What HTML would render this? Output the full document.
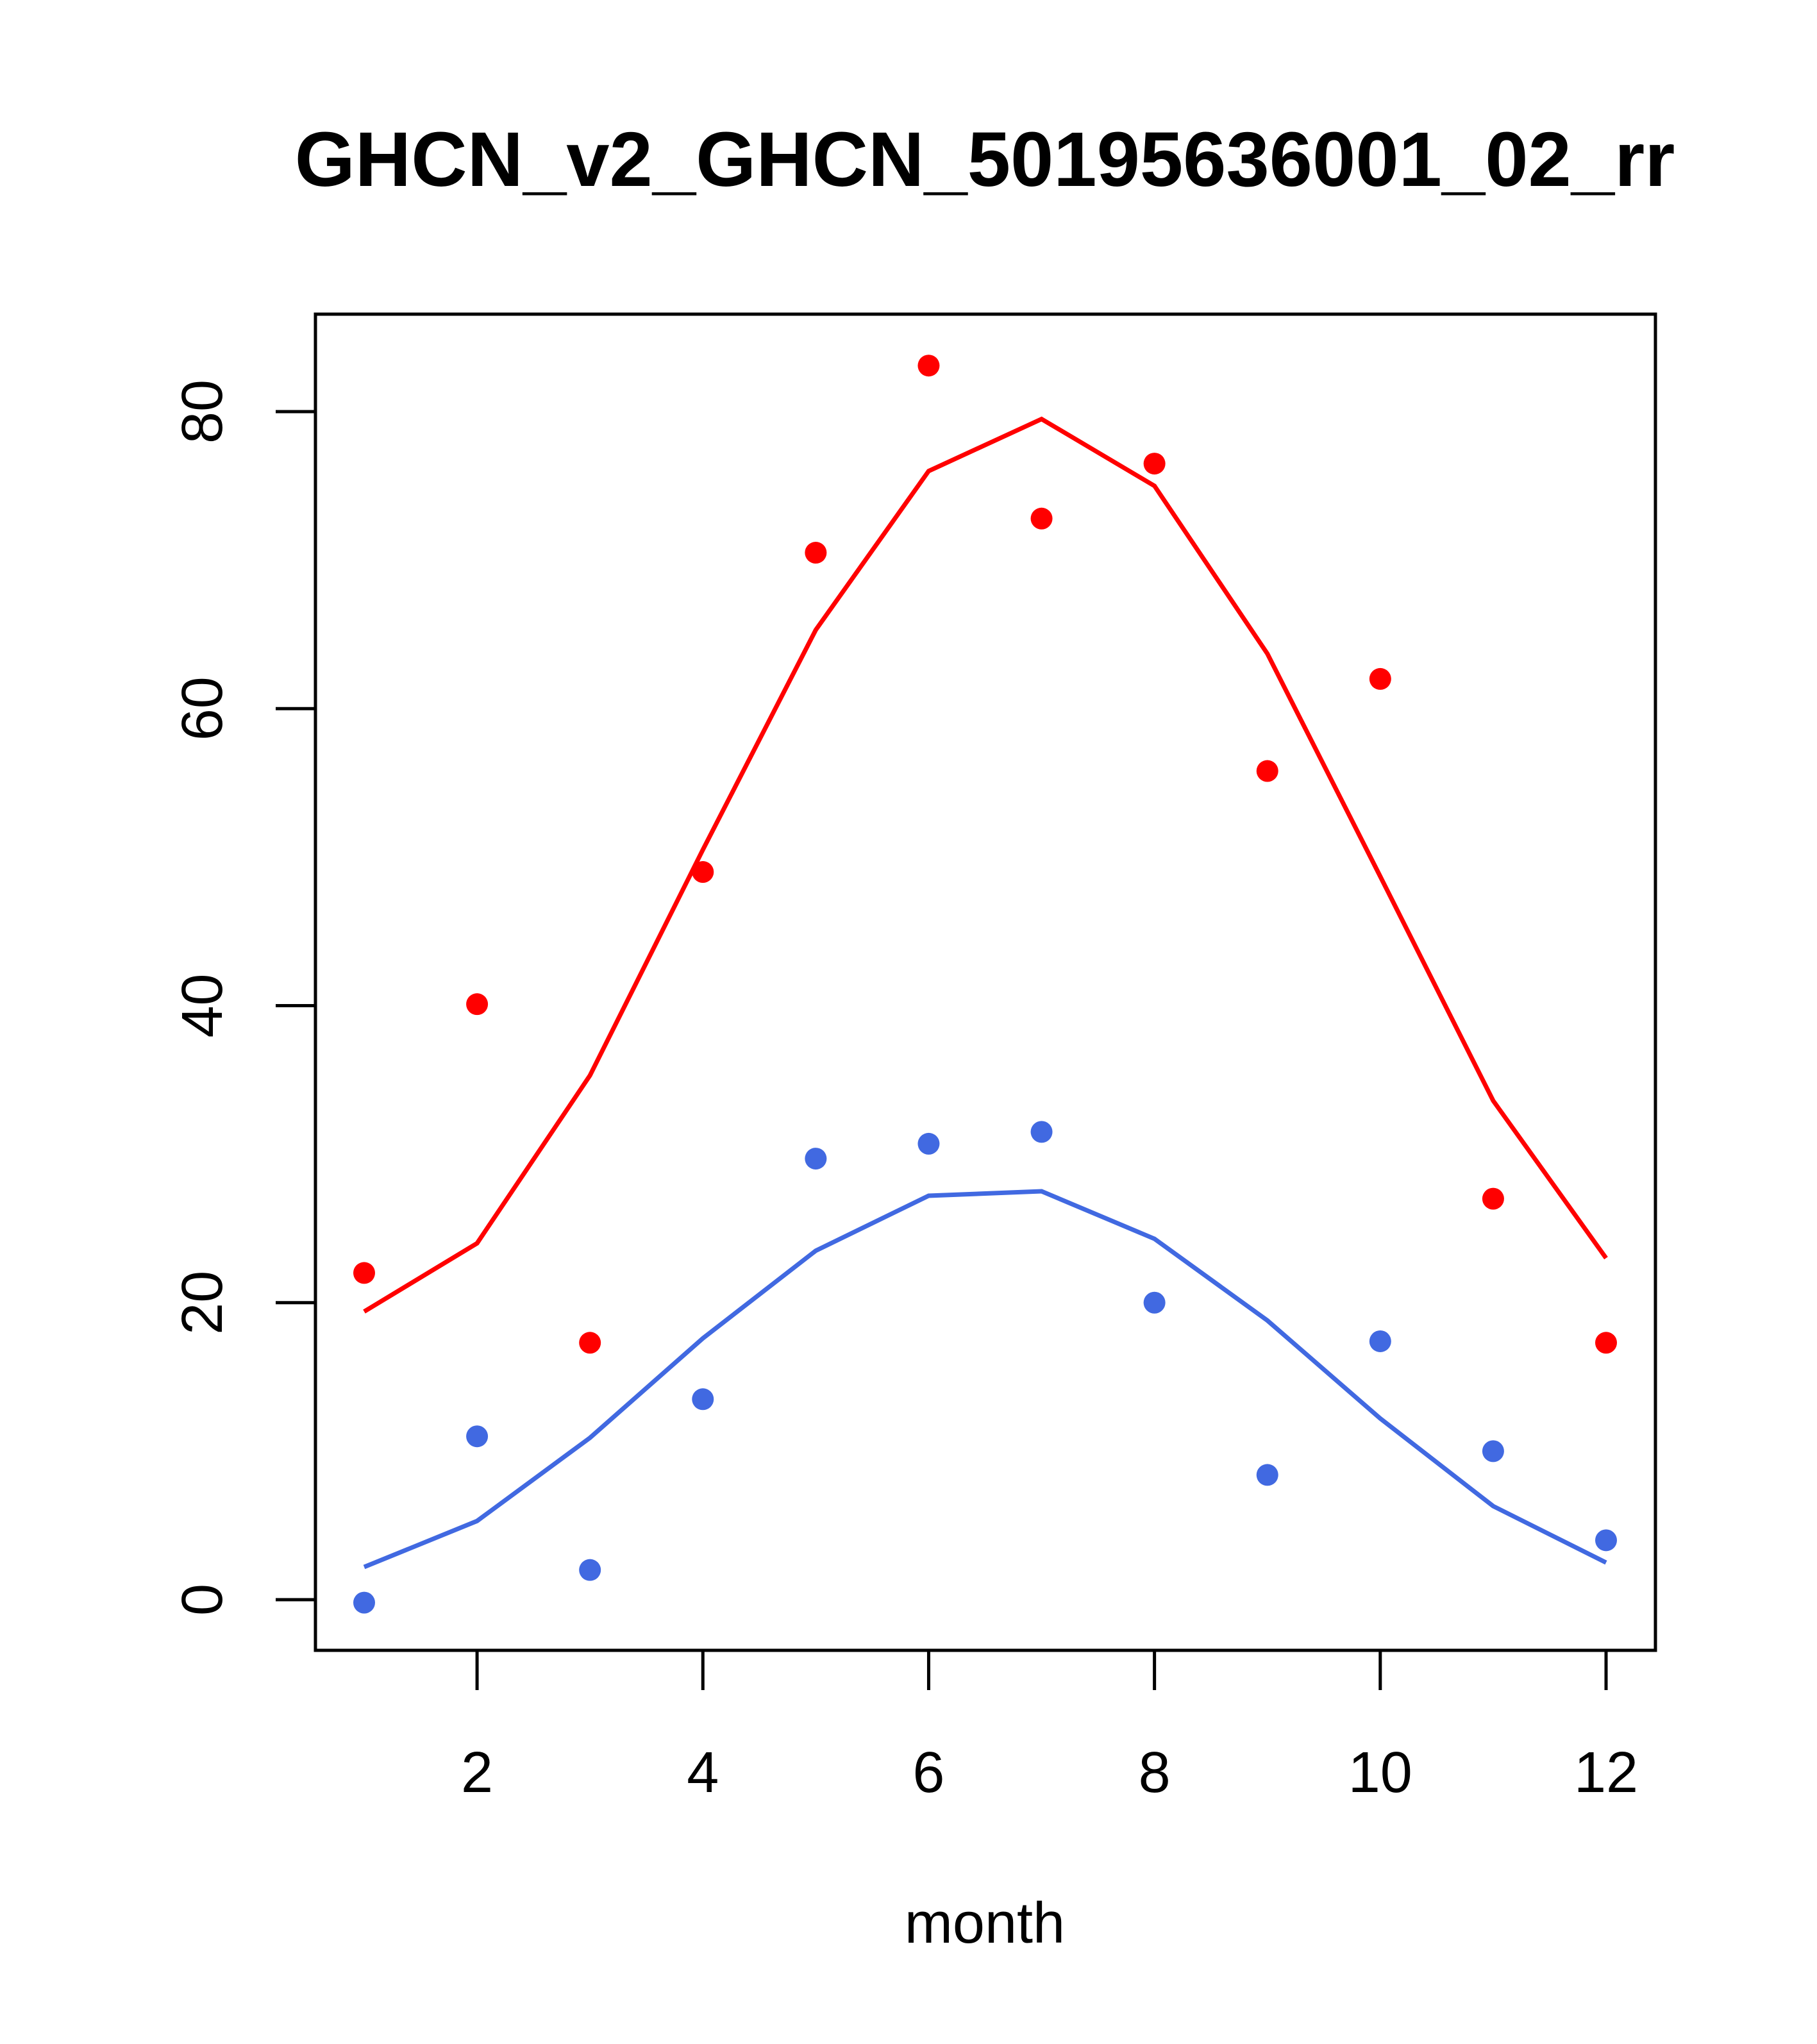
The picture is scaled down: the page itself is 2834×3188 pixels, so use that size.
<!DOCTYPE html>
<html><head><meta charset="utf-8"><style>html,body{margin:0;padding:0;background:#fff}svg{display:block}</style></head>
<body>
<svg id="chart" width="2834" height="3188" xmlns="http://www.w3.org/2000/svg" font-family="Liberation Sans, sans-serif">
<rect width="2834" height="3188" fill="#fff"/>
<text x="1536" y="290" font-size="121" font-weight="bold" text-anchor="middle">GHCN_v2_GHCN_50195636001_02_rr</text>
<rect x="492" y="490" width="2090" height="2084" fill="none" stroke="#000" stroke-width="5"/>
<text x="1536" y="3030" font-size="90" text-anchor="middle">month</text>
<g id="xaxis"></g>
<g id="yaxis"></g>
<g id="marks"></g>
</svg>
<script>
const months=[1,2,3,4,5,6,7,8,9,10,11,12];
const redPoints=[22,40.1,17.3,49,70.5,83.1,72.8,76.5,55.8,62,27,17.3];
const redLine=[19.4,24,35.3,50.5,65.3,76,79.5,75,63.7,48.7,33.6,23];
const bluePoints=[-0.2,11,2,13.5,29.7,30.7,31.5,20,8.4,17.4,10,4];
const blueLine=[2.2,5.3,10.9,17.6,23.5,27.2,27.5,24.3,18.8,12.2,6.3,2.5];
const xTicks=[2,4,6,8,10,12];
const yTicks=[0,20,40,60,80];
const NS="http://www.w3.org/2000/svg";
const xs=m=>568+(m-1)*(2505-568)/11;
const ys=v=>2495-v*(2495-642)/80;
function mk(tag,attrs,parent){const e=document.createElementNS(NS,tag);for(const k in attrs)e.setAttribute(k,attrs[k]);parent.appendChild(e);return e;}
const xa=document.getElementById('xaxis'),ya=document.getElementById('yaxis'),mg=document.getElementById('marks');
mk('line',{x1:xs(2),x2:xs(12),y1:2574,y2:2574,stroke:'#000','stroke-width':5},xa);
xTicks.forEach(t=>{
 const l=mk('line',{x1:xs(t),x2:xs(t),y1:2574,y2:2636,stroke:'#000','stroke-width':5},xa);
 
 
 const tx=mk('text',{x:xs(t),y:2795,'font-size':90,'text-anchor':'middle'},xa);tx.textContent=t;
 
 
});
mk('line',{x1:492,x2:492,y1:ys(0),y2:ys(80),stroke:'#000','stroke-width':5},ya);
yTicks.forEach(t=>{
 const l=mk('line',{x1:430,x2:492,y1:ys(t),y2:ys(t),stroke:'#000','stroke-width':5},ya);
 
 
 const tx=mk('text',{x:0,y:0,'font-size':90,'text-anchor':'middle',transform:`translate(346,${ys(t)}) rotate(-90)`},ya);tx.textContent=t;
 
 
});
function line(vals,color,name){
 const p=mk('polyline',{points:vals.map((v,i)=>xs(months[i])+','+ys(v)).join(' '),fill:'none',stroke:color,'stroke-width':7},mg);
 
 
}
function pts(vals,color,name){
 vals.forEach((v,i)=>{const c=mk('circle',{cx:xs(months[i]),cy:ys(v),r:17,fill:color},mg);
 
 });
}
line(redLine,'#ff0000','red-line');
line(blueLine,'#4169e1','blue-line');
pts(redPoints,'#ff0000','red-point');
pts(bluePoints,'#4169e1','blue-point');
</script>
</body></html>
